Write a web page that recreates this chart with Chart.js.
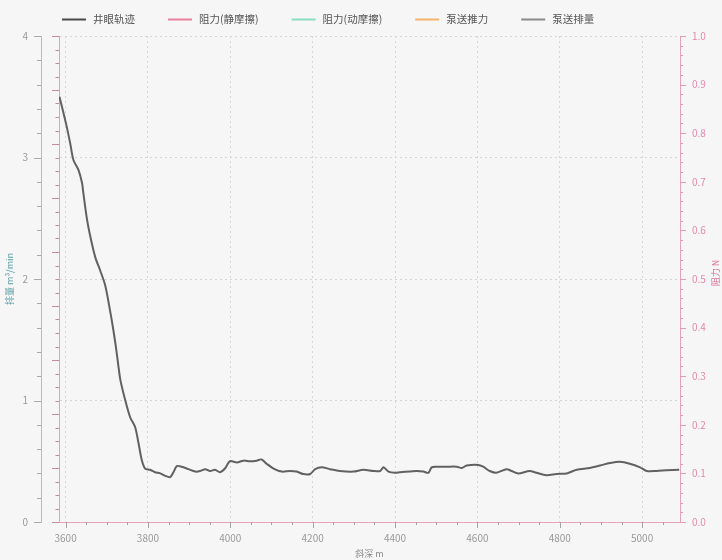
<!DOCTYPE html>
<html>
<head>
<meta charset="utf-8">
<script src="https://cdn.jsdelivr.net/npm/chart.js@4/dist/chart.umd.min.js"></script>
<style>
  html, body { margin: 0; padding: 0; background: #f6f6f6; }
  canvas { display: block; }
</style>
</head>
<body>
<canvas id="c" width="722" height="560"></canvas>
<script>
// Measured depth (m) along the well
const depth = [3585,3591,3603,3611,3619,3631,3640,3643,3652,3660,
  3672,3684,3696,3708,3716,3723,3728,3733,3745,3757,
  3769,3777,3785,3793,3805,3817,3830,3842,3854,3862,
  3870,3882,3898,3915,3927,3939,3951,3963,3975,3987,
  3999,4016,4032,4048,4064,4076,4088,4105,4125,4145,
  4161,4177,4194,4206,4222,4242,4266,4299,4323,4348,
  4364,4372,4384,4400,4412,4436,4453,4469,4481,4489,
  4501,4525,4550,4562,4574,4602,4614,4630,4646,4671,
  4683,4699,4727,4743,4768,4792,4817,4841,4873,4898,
  4922,4946,4970,4995,5011,5035,5059,5090];

// Pumping displacement (m³/min) at each depth
const pumpRate = [3.50,3.42,3.25,3.12,2.98,2.90,2.79,2.71,2.49,2.35,
  2.18,2.07,1.95,1.74,1.58,1.42,1.29,1.17,1.00,0.86,
  0.78,0.65,0.51,0.44,0.43,0.41,0.40,0.38,0.37,0.41,
  0.46,0.455,0.435,0.415,0.42,0.435,0.42,0.43,0.41,0.44,
  0.50,0.49,0.505,0.50,0.505,0.515,0.48,0.44,0.415,0.42,
  0.415,0.395,0.395,0.435,0.45,0.435,0.42,0.415,0.43,0.42,
  0.42,0.45,0.415,0.405,0.41,0.415,0.42,0.415,0.405,0.45,
  0.455,0.455,0.455,0.445,0.465,0.47,0.455,0.42,0.405,0.435,
  0.42,0.40,0.42,0.405,0.385,0.395,0.40,0.43,0.445,0.465,
  0.485,0.495,0.48,0.45,0.42,0.42,0.425,0.43];

// Series without recorded values in this run
const trajectory = [];
const dragStatic = [];
const dragDynamic = [];
const pumpThrust = [];

const seriesNames = ['井眼轨迹', '阻力(静摩擦)', '阻力(动摩擦)', '泵送推力', '泵送排量'];

const FONT = "'Noto Sans CJK SC', 'Liberation Sans', sans-serif";
Chart.defaults.font.family = FONT;
Chart.defaults.font.size = 10;

const toXY = (xs, ys) => xs.map((x, i) => ({ x: x, y: ys[i] }));

// Major/minor tick marks drawn along each axis
const tickMarks = {
  x:  { from: 3600, to: 5050, step: 50,   major: 200, long: 6, short: 3,   color: '#a3a3a3' },
  yQ: { from: 0,    to: 4,    step: 0.2,  major: 1,   long: 7, short: 4,   color: '#a9a9a9' },
  yT: { from: 0,    to: 9,    step: 0.25, major: 1,   long: 7, short: 3.5, color: '#bf8d9d' },
  yR: { from: 0,    to: 1,    step: 0.02, major: 0.1, long: 6, short: 3,   color: '#e69ab5' }
};

const axisTicksPlugin = {
  id: 'axisTicks',
  afterDraw(chart) {
    const ctx = chart.ctx;
    ctx.save();
    ctx.lineWidth = 1;
    Object.keys(tickMarks).forEach(id => {
      const s = chart.scales[id];
      const t = tickMarks[id];
      if (!s) return;
      ctx.strokeStyle = t.color;
      const n = Math.round((t.to - t.from) / t.step);
      for (let i = 0; i <= n; i++) {
        const v = t.from + i * t.step;
        const r = v / t.major;
        const len = Math.abs(r - Math.round(r)) < 1e-6 ? t.long : t.short;
        const p = Math.round(s.getPixelForValue(v)) + 0.5;
        ctx.beginPath();
        if (s.isHorizontal()) {
          ctx.moveTo(p, s.top);
          ctx.lineTo(p, s.top + len);
        } else if (s.position === 'left') {
          ctx.moveTo(s.right, p);
          ctx.lineTo(s.right - len, p);
        } else {
          ctx.moveTo(s.left, p);
          ctx.lineTo(s.left + len, p);
        }
        ctx.stroke();
      }
    });
    ctx.restore();
  }
};

// Right-axis title, reading bottom to top
const rightTitlePlugin = {
  id: 'rightTitle',
  afterDraw(chart) {
    const s = chart.scales.yR;
    const ctx = chart.ctx;
    ctx.save();
    ctx.translate(716, (s.top + s.bottom) / 2 - 6);
    ctx.rotate(-Math.PI / 2);
    ctx.fillStyle = '#d9739a';
    ctx.font = '9px ' + FONT;
    ctx.textAlign = 'center';
    ctx.textBaseline = 'middle';
    ctx.fillText('阻力 N', 0, 0);
    ctx.restore();
  }
};

// Line-style legend across the top
const lineLegendPlugin = {
  id: 'lineLegend',
  afterDraw(chart) {
    const ctx = chart.ctx;
    ctx.save();
    ctx.font = '10.5px ' + FONT;
    ctx.textBaseline = 'middle';
    ctx.textAlign = 'left';
    let x = 62;
    const y = 19;
    chart.data.datasets.forEach(ds => {
      ctx.strokeStyle = ds.legendColor || ds.borderColor;
      ctx.lineWidth = 2;
      ctx.beginPath();
      ctx.moveTo(x, y + 0.5);
      ctx.lineTo(x + 24, y + 0.5);
      ctx.stroke();
      ctx.fillStyle = '#555';
      ctx.fillText(ds.label, x + 31, y);
      x += 31 + ctx.measureText(ds.label).width + 33;
    });
    ctx.restore();
  }
};

const gridDots = '#d6d6d6';

new Chart(document.getElementById('c'), {
  type: 'line',
  data: {
    datasets: [
      { label: seriesNames[0], data: trajectory, yAxisID: 'yT', borderColor: '#4a4a4a', borderWidth: 2 },
      { label: seriesNames[1], data: dragStatic, yAxisID: 'yR', borderColor: '#e8819f', borderWidth: 2 },
      { label: seriesNames[2], data: dragDynamic, yAxisID: 'yR', borderColor: '#8adcc2', borderWidth: 2 },
      { label: seriesNames[3], data: pumpThrust, yAxisID: 'yR', borderColor: '#f5b36b', borderWidth: 2 },
      { label: seriesNames[4], data: toXY(depth, pumpRate), yAxisID: 'yQ',
        borderColor: '#616161', legendColor: '#8a8a8a', borderWidth: 2, tension: 0.3 }
    ]
  },
  options: {
    responsive: false,
    animation: false,
    layout: { padding: { top: 36, left: 0, right: 0, bottom: 0 } },
    elements: { point: { radius: 0, hoverRadius: 0 } },
    plugins: { legend: { display: false }, tooltip: { enabled: false } },
    scales: {
      x: {
        type: 'linear',
        position: 'bottom',
        min: 3584,
        max: 5092,
        afterFit: s => { s.height = 38; },
        ticks: {
          stepSize: 200,
          includeBounds: false,
          color: '#999',
          padding: 4,
          font: { size: 10 },
          callback: v => String(v)
        },
        grid: { color: gridDots, tickLength: 6, tickColor: 'transparent' },
        border: { color: '#e6a4bb', dash: [2, 3] },
        title: { display: true, text: '斜深 m', color: '#888', font: { size: 9 }, padding: { top: 0, bottom: 1 } }
      },
      yQ: {
        type: 'linear',
        position: 'left',
        weight: 1,
        min: 0,
        max: 4,
        afterFit: s => { s.width = 41; },
        ticks: { stepSize: 1, color: '#999', padding: 6, font: { size: 10 } },
        grid: { color: gridDots, tickLength: 7, tickColor: 'transparent' },
        border: { color: '#93cbbf', dash: [2, 3] },
        title: { display: true, text: '排量 m³/min', color: '#5b9ea6', font: { size: 9 }, padding: { top: 4, bottom: 0 } }
      },
      yT: {
        type: 'linear',
        position: 'left',
        weight: 0,
        min: 0,
        max: 9,
        afterFit: s => { s.width = 18; },
        ticks: { display: false, stepSize: 1 },
        grid: { drawOnChartArea: false, tickLength: 7, tickColor: 'transparent' },
        border: { color: '#d7a7b7' }
      },
      yR: {
        type: 'linear',
        position: 'right',
        min: 0,
        max: 1,
        afterFit: s => { s.width = 42; },
        ticks: { stepSize: 0.1, color: '#e38aad', padding: 5, font: { size: 10 }, callback: v => v.toFixed(1) },
        grid: { drawOnChartArea: false, tickLength: 7, tickColor: 'transparent' },
        border: { color: '#e6a4bb' }
      }
    }
  },
  plugins: [axisTicksPlugin, rightTitlePlugin, lineLegendPlugin]
});
</script>
</body>
</html>
